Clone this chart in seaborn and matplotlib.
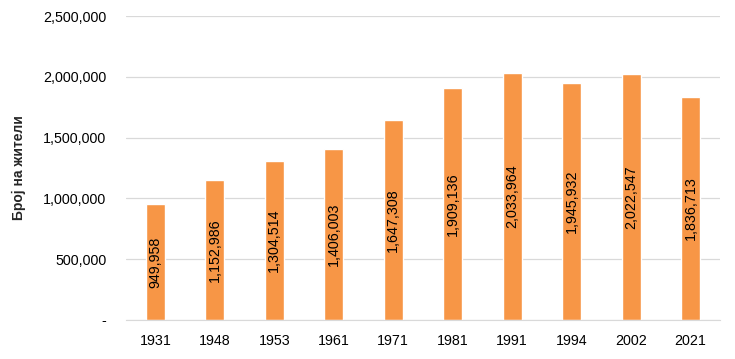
import pandas as pd
import matplotlib.pyplot as plt
import seaborn as sns
from matplotlib.ticker import FuncFormatter

# Пописи на населението
years = ['1931', '1948', '1953', '1961', '1971', '1981', '1991', '1994', '2002', '2021']
population = [949958, 1152986, 1304514, 1406003, 1647308, 1909136, 2033964, 1945932, 2022547, 1836713]
yticks = [0, 500000, 1000000, 1500000, 2000000, 2500000]

df = pd.DataFrame({'year': years, 'population': population})

sns.set_style('white')
plt.rcParams['font.family'] = ['Liberation Sans', 'DejaVu Sans']

fig = plt.figure(figsize=(7.35, 3.59), dpi=100)
ax = fig.add_axes([0.171, 0.109, 0.809, 0.846])

sns.barplot(data=df, x='year', y='population', color='#F79646', saturation=1,
            width=0.32, ax=ax)

for i, v in enumerate(population):
    ax.text(i, v / 2, f'{v:,}', rotation=90, ha='center', va='center',
            fontsize=10.3, color='black')

ax.set_ylim(0, 2500000)
ax.set_yticks(yticks)
ax.yaxis.set_major_formatter(FuncFormatter(lambda v, p: '-' if v == 0 else f'{int(v):,}'))
ax.grid(axis='y', color='#D9D9D9', linewidth=0.9)
ax.set_axisbelow(True)
for s in ['top', 'right', 'left']:
    ax.spines[s].set_visible(False)
ax.spines['bottom'].set_color('#D9D9D9')
ax.tick_params(axis='both', length=0, labelsize=10.3, colors='black')
ax.tick_params(axis='y', pad=14)
ax.tick_params(axis='x', pad=10)
ax.set_xlabel('')
ax.set_ylabel('Број на жители', fontsize=10, fontweight='bold', labelpad=12)

fig.savefig('out.png', dpi=100)
